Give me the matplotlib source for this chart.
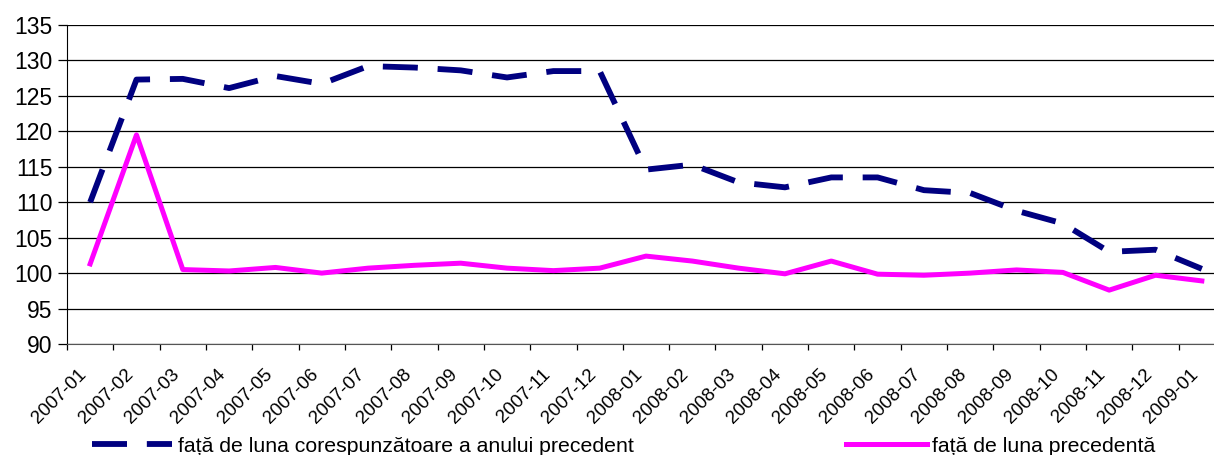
import matplotlib
matplotlib.use('Agg')
import matplotlib.pyplot as plt
import matplotlib.transforms as mtransforms

plt.rcParams['font.family'] = ['Liberation Sans', 'DejaVu Sans']

# luni (categorii)
months = ['2007-01', '2007-02', '2007-03', '2007-04', '2007-05', '2007-06',
          '2007-07', '2007-08', '2007-09', '2007-10', '2007-11', '2007-12',
          '2008-01', '2008-02', '2008-03', '2008-04', '2008-05', '2008-06',
          '2008-07', '2008-08', '2008-09', '2008-10', '2008-11', '2008-12',
          '2009-01']

# fata de luna corespunzatoare a anului precedent
yoy = [110.0, 127.3, 127.4, 126.1, 127.8, 126.7, 129.2, 129.0, 128.6, 127.6,
       128.5, 128.5, 114.6, 115.3, 112.8, 112.1, 113.5, 113.5, 111.7, 111.3,
       108.8, 107.0, 103.0, 103.3, 100.6]

# fata de luna precedenta
mom = [101.3, 119.5, 100.5, 100.3, 100.8, 100.0, 100.7, 101.1, 101.4, 100.7,
       100.35, 100.7, 102.4, 101.7, 100.7, 99.9, 101.7, 99.85, 99.7, 100.0,
       100.45, 100.1, 97.6, 99.7, 98.9]

label_yoy = 'față de luna corespunzătoare a anului precedent'
label_mom = 'față de luna precedentă'

yticks = list(range(90, 136, 5))

fig = plt.figure(figsize=(12.14, 4.55), dpi=100)
ax = fig.add_axes([67 / 1214, 1 - 344 / 455, 1158 / 1214, 319 / 455])

x = list(range(len(months)))
ax.plot(x, yoy, color='#000080', lw=4.2, dashes=(6.0, 3.4),
        solid_joinstyle='miter', label=label_yoy)
ax.plot(x, mom, color='#FF00FF', lw=3.6, label=label_mom)

ax.set_xlim(-0.5, len(months) - 0.5)
ax.set_ylim(90, 135)
ax.set_yticks(yticks)
ax.grid(axis='y', color='black', lw=0.9)
ax.set_axisbelow(True)

# tick marks between categories, labels centred on categories
ax.set_xticks([i - 0.5 for i in range(len(months) + 1)])
ax.set_xticklabels([])
ax.set_xticks(x, minor=True)
ax.set_xticklabels(months, minor=True, rotation=45, ha='right', va='center',
                   rotation_mode='anchor', fontsize=13.5)
ax.tick_params(axis='x', which='major', direction='out', length=4.5, width=0.9)
ax.tick_params(axis='x', which='minor', length=0, pad=20)
ax.tick_params(axis='y', direction='out', length=6.5, width=0.9, pad=4,
               labelsize=16.5)

shift = mtransforms.ScaledTranslation(-6 / 100, 0, fig.dpi_scale_trans)
for lab in ax.get_xticklabels(minor=True):
    lab.set_transform(lab.get_transform() + shift)

for side in ['top', 'right']:
    ax.spines[side].set_visible(False)
ax.spines['left'].set_color('black')
ax.spines['bottom'].set_color('#555555')

fig.legend(loc='center left', bbox_to_anchor=(92 / 1214, 1 - 446 / 455),
           ncol=2, frameon=False, fontsize=15.3, handlelength=3.78,
           handletextpad=0.28, columnspacing=9.98, borderpad=0,
           borderaxespad=0)

fig.savefig('out.png', dpi=100)
